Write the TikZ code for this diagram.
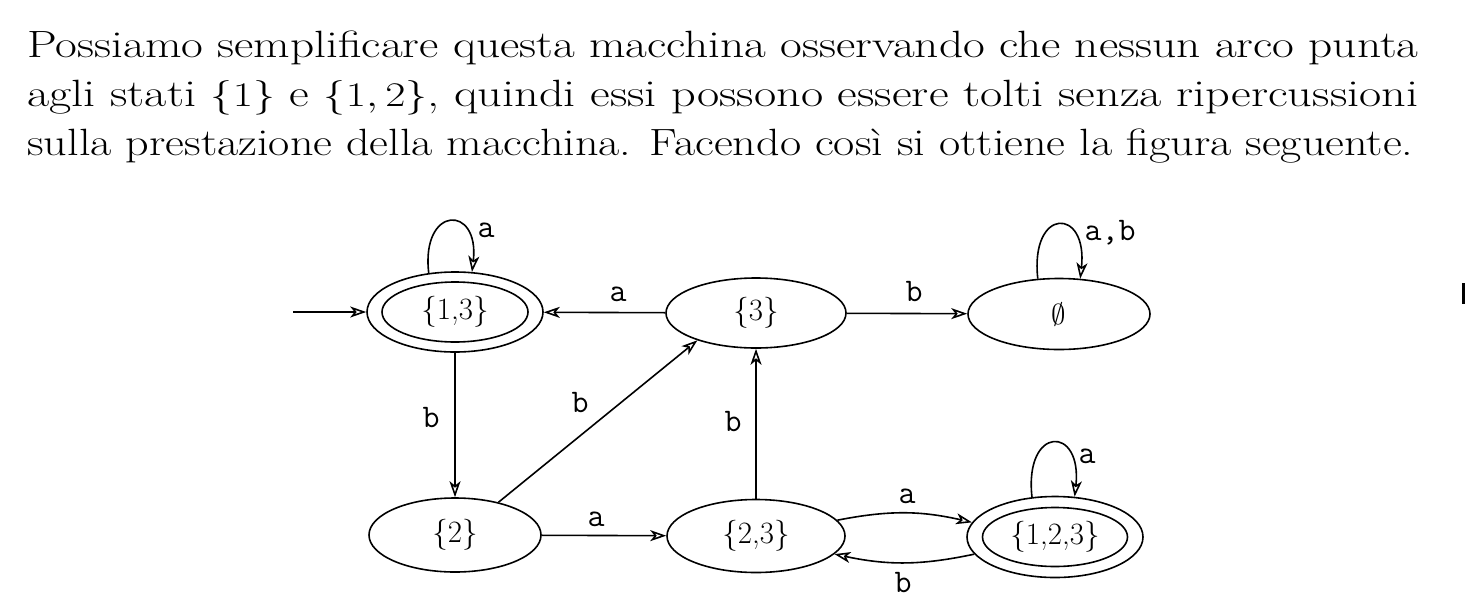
\documentclass[tikz,border=0pt]{standalone}
\usepackage{graphicx}
\usetikzlibrary{arrows.meta,shapes.geometric}
\begin{document}
\begin{tikzpicture}[x=0.5pt,y=-0.5pt,
  state/.style={ellipse, draw, line width=0.8pt, inner sep=0pt, font=\fontsize{15.5}{18}\selectfont},
  lbl/.style={font=\ttfamily\fontsize{16.5}{18}\selectfont, inner sep=0pt},
  arr/.style={-{Stealth[open,length=8pt,width=5.5pt,inset=2.2pt]}, line width=0.8pt},
  para/.style={anchor=base west, inner sep=0pt, font=\fontsize{19}{24}\selectfont}]
\useasboundingbox (0,0) rectangle (1466,600);
% paragraph
\node[para] (l1) at (27,57) {\resizebox{695.5pt}{\height}{Possiamo semplificare questa macchina osservando che nessun arco punta}};
\node[para] (l2) at (27,106) {\resizebox{695.5pt}{\height}{agli stati $\{1\}$ e $\{1,2\}$, quindi essi possono essere tolti senza ripercussioni}};
\node[para] (l3) at (27,155) {\resizebox{693pt}{\height}{sulla prestazione della macchina. Facendo così si ottiene la figura seguente.}};
% states
\node[state, minimum width=88pt, minimum height=40pt] (n13) at (455,312) {};
\node[state, minimum width=73pt, minimum height=30pt] (n13i) at (455,312) {\{1,3\}};
\node[state, minimum width=90pt, minimum height=35pt] (n3) at (756,313) {\{3\}};
\node[state, minimum width=91pt, minimum height=35.5pt] (ne) at (1059,314) {$\emptyset$};
\node[state, minimum width=86pt, minimum height=37pt] (n2) at (455,535) {\{2\}};
\node[state, minimum width=89pt, minimum height=36.5pt] (n23) at (756,536) {\{2,3\}};
\node[state, minimum width=88pt, minimum height=40.5pt] (n123) at (1055,537) {};
\node[state, minimum width=72.5pt, minimum height=29.5pt] (n123i) at (1055,537) {\{1,2,3\}};
\coordinate (start) at (293,312);
% edges
\draw[arr] (start) -- (n13);
\draw[arr] (n13.124) .. controls +(-8,-68) and +(8,-68) .. (n13.67);
\draw[arr] (n3) -- (n13);
\draw[arr] (n3) -- (ne);
\draw[arr] (ne.121) .. controls +(-8,-72) and +(8,-72) .. (ne.59);
\draw[arr] (n13) -- (n2);
\draw[arr] (n2.37) -- (n3.205);
\draw[arr] (n23) -- (n3);
\draw[arr] (n2) -- (n23);
\draw[arr] (n23.11) to[bend left=12] (n123.170);
\draw[arr] (n123.192) to[bend left=12] (n23.-13);
\draw[arr] (n123.120) .. controls +(-8,-72) and +(8,-72) .. (n123.64);
% labels
\node[lbl] (t1) at (486,230) {a};
\node[lbl] (t2) at (618,294) {a};
\node[lbl] (t3) at (914,292) {b};
\node[lbl] (t4) at (1110,233) {a,b};
\node[lbl] (t5) at (431,418) {b};
\node[lbl] (t6) at (580,403) {b};
\node[lbl] (t7) at (733,422) {b};
\node[lbl] (t8) at (596,519) {a};
\node[lbl] (t9) at (907,496) {a};
\node[lbl] (t10) at (903,583) {b};
\node[lbl] (t11) at (1087,456) {a};
% scan mark at right edge
\fill (1462,283) rectangle (1465,304);
\end{tikzpicture}
\end{document}
